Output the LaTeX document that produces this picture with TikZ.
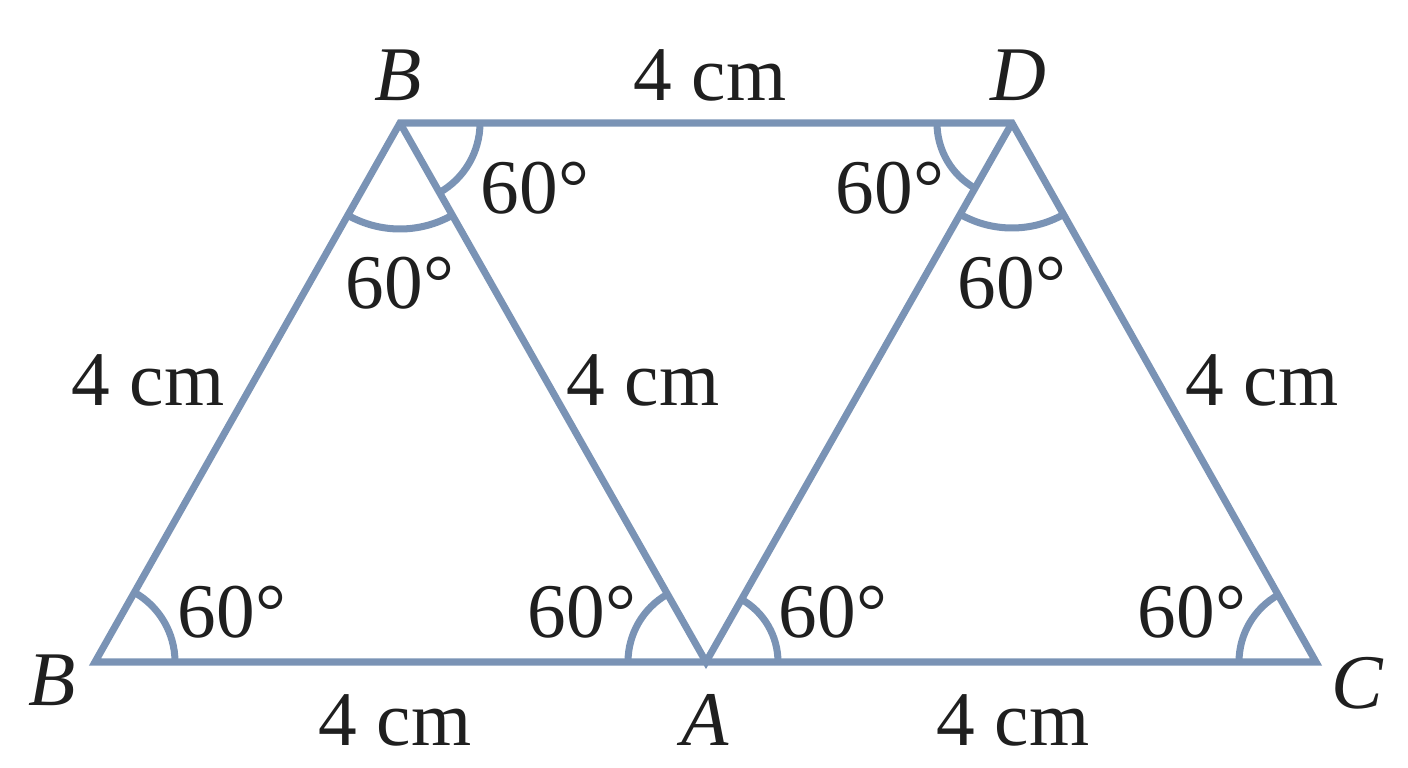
\documentclass[tikz,border=0pt]{standalone}
\usepackage{fontspec}
\setmainfont{Liberation Serif}
\usepackage{tikz}
\usetikzlibrary{angles}
\definecolor{edgeblue}{RGB}{122,147,181}

\begin{document}
\begin{tikzpicture}[line width=2pt,
  edge/.style={color=edgeblue, line join=miter},
  ang/.style={draw=edgeblue, line width=2pt},
  lbl/.style={font=\fontsize{22}{26}\selectfont, text=black!88, inner sep=0pt}]
\useasboundingbox (0,0) rectangle (14.08,7.68);
\coordinate (B1) at (0.95,1.06);
\coordinate (A) at (7.06,1.06);
\coordinate (C) at (13.16,1.06);
\coordinate (B2) at (4.00,6.45);
\coordinate (D) at (10.12,6.45);
\draw[edge] (B1) -- (C) -- (D) -- (B2) -- cycle;
\draw[edge] (B2) -- (A) -- (D);
% angle arcs
\pic[ang, angle radius=0.80cm] {angle = A--B1--B2};
\pic[ang, angle radius=0.78cm] {angle = B2--A--B1};
\pic[ang, angle radius=0.72cm] {angle = C--A--D};
\pic[ang, angle radius=0.77cm] {angle = D--C--A};
\pic[ang, angle radius=0.80cm] {angle = A--B2--D};
\pic[ang, angle radius=1.06cm] {angle = B1--B2--A};
\pic[ang, angle radius=0.75cm] {angle = B2--D--A};
\pic[ang, angle radius=1.05cm] {angle = A--D--C};
% vertex names
\node[lbl] (nB2) at (3.98,6.93) {\textit{B}};
\node[lbl] (nD) at (10.18,6.93) {\textit{D}};
\node[lbl] (nB1) at (0.52,0.88) {\textit{B}};
\node[lbl] (nA) at (7.05,0.48) {\textit{A}};
\node[lbl] (nC) at (13.58,0.85) {\textit{C}};
% side lengths
\node[lbl] (sBD) at (7.10,6.93) {4 cm};
\node[lbl] (sBB) at (1.48,3.88) {4 cm};
\node[lbl] (sBA) at (6.43,3.88) {4 cm};
\node[lbl] (sDC) at (12.62,3.88) {4 cm};
\node[lbl] (sBA2) at (3.95,0.48) {4 cm};
\node[lbl] (sAC) at (10.13,0.48) {4 cm};
% angles
\node[lbl] (aB2r) at (5.35,5.80) {60°};
\node[lbl] (aB2b) at (4.00,4.85) {60°};
\node[lbl] (aDl) at (8.90,5.80) {60°};
\node[lbl] (aDb) at (10.12,4.85) {60°};
\node[lbl] (aB1) at (2.32,1.56) {60°};
\node[lbl] (aAl) at (5.82,1.56) {60°};
\node[lbl] (aAr) at (8.33,1.56) {60°};
\node[lbl] (aC) at (11.92,1.56) {60°};
\end{tikzpicture}
\end{document}
